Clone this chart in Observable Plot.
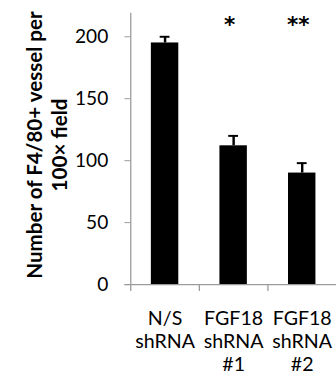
<!DOCTYPE html>
<html><head><meta charset="utf-8">
<script src="https://cdn.jsdelivr.net/npm/d3@7"></script>
<script src="https://cdn.jsdelivr.net/npm/@observablehq/plot@0.6"></script>
<style>
html,body{margin:0;padding:0;background:#fff;overflow:hidden;}
</style></head><body><div id="chart"></div>
<script>
// Macrophage-associated vessels per 100× field after shRNA knockdown
const groups = ["N/S shRNA", "FGF18 shRNA #1", "FGF18 shRNA #2"];
const groupLabels = ["N/S\nshRNA", "FGF18\nshRNA\n#1", "FGF18\nshRNA\n#2"];
const vesselCounts = [195, 112, 90];
const errorUpper = [5, 8, 8];
const significance = ["", "*", "**"];
const yTicks = [0, 50, 100, 150, 200];
const yTitle = "Number of F4/80+ vessel per\n100× field";

const rows = groups.map((g, i) => ({
  group: g,
  label: groupLabels[i],
  value: vesselCounts[i],
  hi: vesselCounts[i] + errorUpper[i],
  sig: significance[i]
}));

const axisGray = "#9b9b9b";
const font = "Lato, 'Open Sans', sans-serif";
const halfStep = 35; // half a band step: moves category ticks to band edges

const chart = Plot.plot({
  width: 343, height: 384,
  marginLeft: 133, marginRight: 0, marginTop: 13, marginBottom: 94,
  style: {fontFamily: font, background: "#fff", color: "#000", overflow: "visible"},
  x: {domain: groups, paddingInner: 0.6, paddingOuter: 0.3, axis: null},
  y: {domain: [0, 219], axis: null},
  marks: [
    Plot.barY(rows, {x: "group", y: "value", fill: "#000"}),
    Plot.ruleX(rows, {x: "group", y1: "value", y2: "hi", stroke: "#000", strokeWidth: 2.5}),
    Plot.tickY(rows, {x: "group", y: "hi", stroke: "#000", strokeWidth: 2, inset: 9}),
    Plot.ruleY([0], {stroke: axisGray, strokeWidth: 1.3, insetLeft: -6}),
    Plot.ruleX([groups[0]], {x: d => d, dx: -halfStep, stroke: axisGray, strokeWidth: 1.3}),
    Plot.ruleX(groups, {x: d => d, y1: 0, y2: 0, dx: -halfStep, insetBottom: -7, stroke: axisGray, strokeWidth: 1.3}),
    Plot.axisY({ticks: yTicks, tickSize: 6, tickPadding: 17, stroke: axisGray, fill: "#000", fontSize: 19.5, label: null}),
    Plot.text(rows, {x: "group", text: "label", frameAnchor: "bottom", lineAnchor: "top", dy: 25, lineHeight: 1.16, fontSize: 20, fill: "#000"}),
    Plot.text(rows, {x: "group", text: "sig", frameAnchor: "top", dy: 4, dx: -4, fontSize: 22, fontWeight: "bold", fontFamily: "'DejaVu Sans', sans-serif", fill: "#000"}),
    Plot.text([yTitle], {text: d => d, frameAnchor: "left", textAnchor: "middle", dx: -86, dy: -4, rotate: -90, fontWeight: "bold", fontSize: 21, lineHeight: 1.24, fill: "#000"})
  ]
});
document.getElementById("chart").append(chart);
</script></body></html>
